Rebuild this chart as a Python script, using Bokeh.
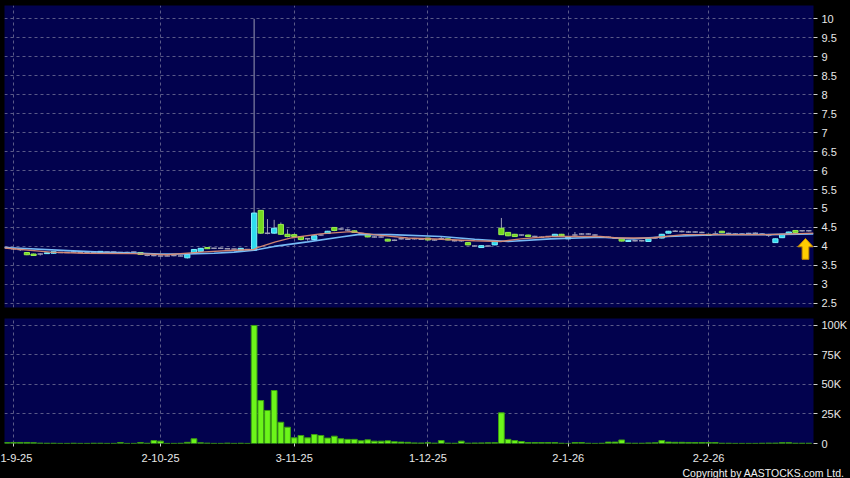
from bokeh.plotting import figure
from bokeh.layouts import column
from bokeh.models import ColumnDataSource, Range1d, FixedTicker, Grid, Title
from bokeh.embed import file_html
from bokeh.resources import INLINE

# ---------------- data ----------------
opens = [3.97, 3.94, 3.92, 3.84, 3.80, 3.80, 3.81, 3.82, 3.84, 3.84,
         3.85, 3.84, 3.84, 3.84, 3.84, 3.85, 3.85, 3.84, 3.84, 3.85,
         3.84, 3.77, 3.76, 3.75, 3.75, 3.76, 3.75, 3.70, 3.82, 3.87,
         3.97, 3.95, 3.95, 3.94, 3.93, 3.90, 3.92, 3.90, 4.95, 4.35,
         4.35, 4.58, 4.32, 4.31, 4.26, 4.20, 4.18, 4.30, 4.34, 4.50,
         4.46, 4.43, 4.41, 4.34, 4.32, 4.25, 4.25, 4.19, 4.16, 4.20,
         4.19, 4.20, 4.19, 4.22, 4.17, 4.20, 4.20, 4.15, 4.15, 4.10,
         4.01, 3.97, 4.01, 4.04, 4.48, 4.37, 4.32, 4.30, 4.30, 4.26,
         4.24, 4.26, 4.26, 4.32, 4.20, 4.30, 4.33, 4.33, 4.30, 4.25,
         4.24, 4.22, 4.21, 4.13, 4.15, 4.15, 4.13, 4.22, 4.22, 4.35,
         4.40, 4.39, 4.38, 4.38, 4.37, 4.32, 4.33, 4.40, 4.34, 4.33,
         4.33, 4.34, 4.35, 4.33, 4.30, 4.10, 4.23, 4.33, 4.42, 4.41,
         4.41]
closes = [3.97, 3.94, 3.92, 3.78, 3.76, 3.80, 3.83, 3.86, 3.84, 3.84,
          3.85, 3.84, 3.84, 3.84, 3.87, 3.85, 3.85, 3.84, 3.84, 3.85,
          3.79, 3.77, 3.76, 3.75, 3.75, 3.76, 3.75, 3.79, 3.92, 3.95,
          3.94, 3.95, 3.95, 3.94, 3.93, 3.95, 3.92, 4.88, 4.35, 4.35,
          4.48, 4.32, 4.26, 4.26, 4.18, 4.20, 4.28, 4.30, 4.40, 4.42,
          4.46, 4.43, 4.37, 4.34, 4.25, 4.25, 4.25, 4.14, 4.16, 4.20,
          4.19, 4.20, 4.19, 4.17, 4.17, 4.20, 4.17, 4.15, 4.15, 4.04,
          4.01, 4.02, 4.01, 4.14, 4.31, 4.28, 4.26, 4.30, 4.26, 4.26,
          4.24, 4.26, 4.32, 4.28, 4.24, 4.30, 4.33, 4.33, 4.30, 4.25,
          4.24, 4.22, 4.14, 4.16, 4.15, 4.15, 4.20, 4.22, 4.32, 4.40,
          4.40, 4.39, 4.38, 4.38, 4.37, 4.29, 4.33, 4.36, 4.34, 4.33,
          4.33, 4.34, 4.35, 4.33, 4.30, 4.20, 4.32, 4.38, 4.37, 4.41,
          4.41]
highs = [3.99, 3.96, 3.93, 3.85, 3.81, 3.82, 3.84, 3.86, 3.85, 3.85,
         3.88, 3.85, 3.84, 3.85, 3.87, 3.86, 3.86, 3.85, 3.86, 3.86,
         3.85, 3.78, 3.77, 3.76, 3.78, 3.77, 3.77, 3.79, 3.92, 3.96,
         3.98, 3.96, 3.97, 3.95, 3.94, 3.96, 3.93, 10.0, 4.95, 4.72,
         4.70, 4.63, 4.45, 4.33, 4.27, 4.22, 4.29, 4.32, 4.41, 4.51,
         4.48, 4.47, 4.42, 4.36, 4.33, 4.27, 4.29, 4.20, 4.18, 4.22,
         4.21, 4.22, 4.20, 4.23, 4.19, 4.25, 4.21, 4.17, 4.16, 4.11,
         4.03, 4.03, 4.02, 4.15, 4.75, 4.38, 4.33, 4.31, 4.31, 4.28,
         4.26, 4.27, 4.33, 4.33, 4.25, 4.38, 4.35, 4.35, 4.32, 4.27,
         4.26, 4.24, 4.22, 4.17, 4.17, 4.17, 4.21, 4.24, 4.33, 4.41,
         4.43, 4.42, 4.41, 4.40, 4.39, 4.33, 4.40, 4.41, 4.36, 4.35,
         4.35, 4.36, 4.37, 4.35, 4.33, 4.21, 4.33, 4.39, 4.43, 4.43,
         4.43]
lows = [3.95, 3.90, 3.88, 3.77, 3.75, 3.76, 3.80, 3.81, 3.83, 3.83,
        3.84, 3.83, 3.83, 3.83, 3.84, 3.84, 3.84, 3.83, 3.83, 3.84,
        3.78, 3.74, 3.74, 3.73, 3.74, 3.74, 3.74, 3.68, 3.80, 3.86,
        3.93, 3.93, 3.94, 3.93, 3.92, 3.89, 3.91, 3.88, 4.33, 4.32,
        4.33, 4.30, 4.24, 4.24, 4.16, 4.15, 4.17, 4.28, 4.33, 4.40,
        4.43, 4.41, 4.36, 4.32, 4.24, 4.23, 4.23, 4.13, 4.14, 4.18,
        4.17, 4.18, 4.17, 4.16, 4.15, 4.18, 4.16, 4.13, 4.12, 4.03,
        4.00, 3.96, 3.99, 4.03, 4.30, 4.27, 4.25, 4.28, 4.25, 4.24,
        4.22, 4.24, 4.25, 4.27, 4.19, 4.28, 4.31, 4.31, 4.28, 4.23,
        4.22, 4.20, 4.13, 4.12, 4.13, 4.13, 4.12, 4.20, 4.21, 4.34,
        4.38, 4.37, 4.36, 4.36, 4.35, 4.28, 4.31, 4.35, 4.32, 4.31,
        4.31, 4.32, 4.33, 4.31, 4.25, 4.09, 4.22, 4.32, 4.36, 4.39,
        4.39]
volumes = [800, 900, 900, 900, 700, 300, 200, 200, 100, 100,
           200, 100, 100, 200, 200, 100, 100, 800, 100, 100,
           800, 200, 2500, 2000, 100, 100, 200, 1000, 4000, 600,
           300, 100, 100, 300, 100, 200, 100, 100000, 36400, 28000,
           44900, 18000, 13800, 4800, 6800, 4800, 7600, 6800, 4600, 6200,
           4000, 3500, 3500, 2300, 3100, 2000, 2000, 2300, 1500, 1200,
           1000, 500, 400, 700, 300, 2500, 300, 200, 2000, 300,
           400, 500, 600, 700, 26000, 3500, 2500, 1700, 800, 800,
           800, 800, 800, 200, 100, 800, 800, 200, 100, 200,
           1200, 1200, 3000, 300, 200, 200, 500, 600, 2500, 1200,
           1000, 1000, 900, 800, 800, 800, 800, 200, 200, 100,
           100, 100, 100, 200, 300, 300, 700, 700, 200, 200,
           200]

# moving averages (short = reddish, long = light blue), read at sample points
ma_short_idx = [-0.35, 6.5, 11.5, 19, 24, 29, 34, 37, 37.5, 40.2, 42.7, 46.9, 51.4,
                54.9, 60, 65, 70, 73.9, 76.9, 81.4, 88.8, 91.4, 96.3, 101.3, 113.8, 120.7]
ma_short_val = [3.96, 3.85, 3.82, 3.81, 3.78, 3.85, 3.90, 3.92, 3.97, 4.12, 4.23, 4.33, 4.39,
                4.31, 4.22, 4.19, 4.15, 4.13, 4.20, 4.26, 4.26, 4.22, 4.22, 4.31, 4.31, 4.35]
ma_long_idx = [-0.35, 9.1, 14, 20, 23, 27, 31, 34, 37, 40, 45, 50, 52.5, 57.4, 65, 70,
               75, 81.4, 88.8, 93.8, 98.9, 106.3, 113.8, 120.7]
ma_long_val = [3.97, 3.89, 3.85, 3.82, 3.80, 3.80, 3.82, 3.85, 3.90, 4.00, 4.12, 4.25, 4.31,
               4.31, 4.26, 4.19, 4.13, 4.20, 4.24, 4.20, 4.26, 4.31, 4.31, 4.33]

x_tick_idx = [1, 23, 43, 63, 84, 105]
x_tick_labels = ["1-9-25", "2-10-25", "3-11-25", "1-12-25", "2-1-26", "2-2-26"]
price_ticks = [2.5, 3, 3.5, 4, 4.5, 5, 5.5, 6, 6.5, 7, 7.5, 8, 8.5, 9, 9.5, 10]
price_tick_labels = ["2.5", "3", "3.5", "4", "4.5", "5", "5.5", "6", "6.5", "7",
                     "7.5", "8", "8.5", "9", "9.5", "10"]
vol_ticks = [0, 25000, 50000, 75000, 100000]
vol_tick_labels = ["0", "25K", "50K", "75K", "100K"]

# ---------------- styling ----------------
NAVY = "#02024e"
GRID = "#5a5a88"
UP_FILL, UP_LINE = "#2fdcef", "#7ff0ff"
DN_FILL, DN_LINE = "#72d820", "#9aee50"
DOJI = "#9a9ab4"
WICK = "#9c9cb4"
FONT = "Liberation Sans"
LABEL_COLOR = "#e8e8e8"

idx = list(range(len(closes)))
up = [i for i in idx if closes[i] > opens[i]]
dn = [i for i in idx if closes[i] < opens[i]]
flat = [i for i in idx if closes[i] == opens[i]]

x_range = Range1d(-0.35, 120.7)


def style_y(ax, ticks, labels):
    ax.ticker = FixedTicker(ticks=ticks)
    ax.major_label_overrides = {t: l for t, l in zip(ticks, labels)}
    ax.axis_line_color = None
    ax.major_tick_in = 0
    ax.major_tick_out = 4
    ax.major_tick_line_color = "#cfcfcf"
    ax.minor_tick_line_color = None
    ax.major_label_standoff = 4
    ax.major_label_text_color = LABEL_COLOR
    ax.major_label_text_font = FONT
    ax.major_label_text_font_size = "11px"


# ---------------- price panel ----------------
p1 = figure(width=850, height=318, x_range=x_range, y_range=Range1d(2.39, 10.35),
            y_axis_location="right", x_axis_location=None,
            output_backend="svg", toolbar_location=None,
            min_border_left=4, min_border_top=5, min_border_right=37, min_border_bottom=11,
            background_fill_color=NAVY, border_fill_color="black", outline_line_color=None)
style_y(p1.yaxis[0], price_ticks, price_tick_labels)
p1.ygrid.ticker = FixedTicker(ticks=price_ticks)
p1.ygrid.grid_line_color = GRID
p1.ygrid.grid_line_dash = "3 3"
p1.xgrid.grid_line_color = None
p1.add_layout(Grid(dimension=0, ticker=FixedTicker(ticks=x_tick_idx),
                   grid_line_color=GRID, grid_line_dash="3 3"))

wick_src = ColumnDataSource(dict(x=idx, lo=lows, hi=highs))
p1.segment(x0="x", y0="lo", x1="x", y1="hi", source=wick_src, line_color=WICK, line_width=1)

up_src = ColumnDataSource(dict(x=up, top=[closes[i] for i in up], bot=[opens[i] for i in up]))
dn_src = ColumnDataSource(dict(x=dn, top=[opens[i] for i in dn], bot=[closes[i] for i in dn]))
p1.vbar(x="x", top="top", bottom="bot", width=0.78, source=up_src,
        fill_color=UP_FILL, line_color=UP_LINE, line_width=1)
p1.vbar(x="x", top="top", bottom="bot", width=0.78, source=dn_src,
        fill_color=DN_FILL, line_color=DN_LINE, line_width=1)
flat_src = ColumnDataSource(dict(x0=[i - 0.4 for i in flat], x1=[i + 0.4 for i in flat],
                                 y=[closes[i] for i in flat]))
p1.segment(x0="x0", y0="y", x1="x1", y1="y", source=flat_src, line_color=DOJI, line_width=1.5)

p1.line(ma_long_idx, ma_long_val, line_color="#7cc4ff", line_width=1.6, line_alpha=0.95)
p1.line(ma_short_idx, ma_short_val, line_color="#d98a72", line_width=1.4, line_alpha=0.95)

# yellow marker arrow under the latest bar
last = idx[-1]
ax_ = last - 0.5
tip = lows[-1] - 0.18
head = dict(x=[[ax_ - 1.15, ax_, ax_ + 1.15, ax_ + 0.5, ax_ + 0.5, ax_ - 0.5, ax_ - 0.5]],
            y=[[tip - 0.22, tip, tip - 0.22, tip - 0.22, tip - 0.55, tip - 0.55, tip - 0.22]])
p1.patches(xs="x", ys="y", source=ColumnDataSource(head),
           fill_color="#ffcc00", line_color="#c88a00", line_width=1)

# ---------------- volume panel ----------------
p2 = figure(width=850, height=160, x_range=x_range, y_range=Range1d(0, 105900),
            y_axis_location="right", output_backend="svg", toolbar_location=None,
            min_border_left=4, min_border_top=0, min_border_right=37, min_border_bottom=35,
            background_fill_color=NAVY, border_fill_color="black", outline_line_color=None)
style_y(p2.yaxis[0], vol_ticks, vol_tick_labels)
p2.ygrid.ticker = FixedTicker(ticks=vol_ticks)
p2.ygrid.grid_line_color = GRID
p2.ygrid.grid_line_dash = "3 3"
p2.xgrid.ticker = FixedTicker(ticks=x_tick_idx)
p2.xgrid.grid_line_color = GRID
p2.xgrid.grid_line_dash = "3 3"

xa = p2.xaxis[0]
xa.ticker = FixedTicker(ticks=x_tick_idx)
xa.major_label_overrides = {t: l for t, l in zip(x_tick_idx, x_tick_labels)}
xa.axis_line_color = None
xa.major_tick_in = 0
xa.major_tick_out = 3
xa.major_tick_line_color = "#cfcfcf"
xa.minor_tick_line_color = None
xa.major_label_standoff = 7
xa.major_label_text_color = LABEL_COLOR
xa.major_label_text_font = FONT
xa.major_label_text_font_size = "11px"

p2.vbar(x=idx, top=volumes, bottom=0, width=0.86,
        fill_color="#6cf51a", line_color="#3c9e12", line_width=1)

p2.add_layout(Title(text="Copyright by AASTOCKS.com Ltd.", align="left", offset=678,
                    text_color="#f0f0f0", text_font=FONT, text_font_size="10.5px",
                    text_font_style="normal", standoff=0), "below")

layout = column(p1, p2, spacing=0, styles={"background-color": "black"})

html = file_html(layout, INLINE)
html = html.replace("<head>", "<head><style>html,body{background:#000;}</style>", 1)
open("out.html", "w").write(html)
